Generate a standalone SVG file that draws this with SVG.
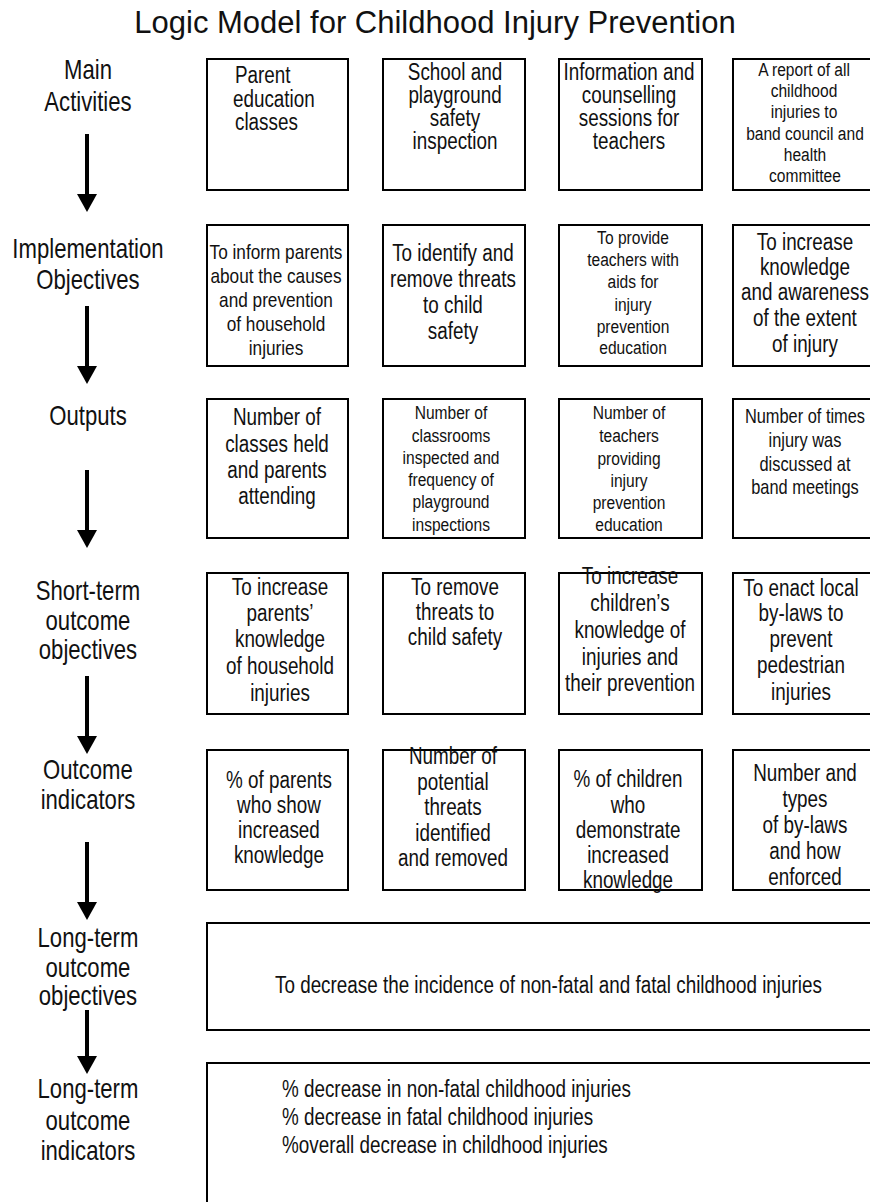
<svg xmlns="http://www.w3.org/2000/svg" width="870" height="1202" viewBox="0 0 870 1202">
<defs>
<style>
.box{fill:#fff;stroke:#000;stroke-width:2}
.t{font-family:"Liberation Sans",Arial,sans-serif;font-size:23px;text-anchor:middle;fill:#111}
.s19{font-size:19px}
.s20{font-size:20px}
.s21{font-size:21px}
.lbl{font-size:27px}
.st{text-anchor:start}
.title{font-family:"Liberation Sans",Arial,sans-serif;font-size:31px;text-anchor:middle;fill:#111}
.arr{stroke:#000;stroke-width:4;fill:none;marker-end:url(#ah)}
</style>
<marker id="ah" markerUnits="userSpaceOnUse" markerWidth="20" markerHeight="20" refX="0" refY="10" orient="auto" viewBox="0 0 20 20">
<path d="M0,0 L18,10 L0,20 Z" fill="#000"/>
</marker>
</defs>
<rect width="870" height="1202" fill="#fff"/>
<text class="title" x="435" y="33">Logic Model for Childhood Injury Prevention</text>

<g id="labels"><g transform="scale(0.82 1)">
<text class="t lbl" x="107.3" y="79">Main</text>
<text class="t lbl" x="107.3" y="111">Activities</text>
<text class="t lbl" x="107.3" y="258">Implementation</text>
<text class="t lbl" x="107.3" y="289">Objectives</text>
<text class="t lbl" x="107.3" y="425">Outputs</text>
<text class="t lbl" x="107.3" y="600">Short-term</text>
<text class="t lbl" x="107.3" y="630">outcome</text>
<text class="t lbl" x="107.3" y="659">objectives</text>
<text class="t lbl" x="107.3" y="779">Outcome</text>
<text class="t lbl" x="107.3" y="809">indicators</text>
<text class="t lbl" x="107.3" y="947">Long-term</text>
<text class="t lbl" x="107.3" y="977">outcome</text>
<text class="t lbl" x="107.3" y="1005">objectives</text>
<text class="t lbl" x="107.3" y="1098">Long-term</text>
<text class="t lbl" x="107.3" y="1130">outcome</text>
<text class="t lbl" x="107.3" y="1160">indicators</text>
</g></g>

<g id="connectors">
<line class="arr" x1="87" y1="134" x2="87" y2="194"/>
<line class="arr" x1="87" y1="306" x2="87" y2="366"/>
<line class="arr" x1="87" y1="470" x2="87" y2="530"/>
<line class="arr" x1="87" y1="676" x2="87" y2="736"/>
<line class="arr" x1="87" y1="842" x2="87" y2="902"/>
<line class="arr" x1="87" y1="1010" x2="87" y2="1056"/>
</g>

<g id="r1b1"><rect class="box" x="207" y="59" width="141" height="131"/><g transform="scale(0.82 1)">
<text class="t st" x="286.6" y="83">Parent</text><text class="t st" x="284.1" y="107">education</text><text class="t st" x="286.6" y="130">classes</text></g></g>
<g id="r1b2"><rect class="box" x="383" y="59" width="142" height="131"/><g transform="scale(0.82 1)">
<text class="t" x="554.9" y="80">School and</text><text class="t" x="554.9" y="103">playground</text><text class="t" x="554.9" y="126">safety</text><text class="t" x="554.9" y="149">inspection</text></g></g>
<g id="r1b3"><rect class="box" x="559" y="59" width="143" height="131"/><g transform="scale(0.82 1)">
<text class="t" x="767.1" y="80">Information and</text><text class="t" x="767.1" y="103">counselling</text><text class="t" x="767.1" y="126">sessions for</text><text class="t" x="767.1" y="149">teachers</text></g></g>
<g id="r1b4"><rect class="box" x="733" y="59" width="142" height="131"/><g transform="scale(0.82 1)">
<text class="t s19" x="980.5" y="76">A report of all</text><text class="t s19" x="980.5" y="97">childhood</text><text class="t s19" x="980.5" y="118">injuries to</text><text class="t s19" x="981.7" y="140">band council and</text><text class="t s19" x="981.7" y="161">health</text><text class="t s19" x="981.7" y="182">committee</text></g></g>

<g id="r2b1"><rect class="box" x="207" y="225" width="141" height="141"/><g transform="scale(0.82 1)">
<text class="t s21" x="336.6" y="259">To inform parents</text><text class="t s21" x="336.6" y="283">about the causes</text><text class="t s21" x="336.6" y="307">and prevention</text><text class="t s21" x="336.6" y="331">of household</text><text class="t s21" x="336.6" y="355">injuries</text></g></g>
<g id="r2b2"><rect class="box" x="383" y="225" width="142" height="141"/><g transform="scale(0.82 1)">
<text class="t" x="552.4" y="261">To identify and</text><text class="t" x="552.4" y="287">remove threats</text><text class="t" x="552.4" y="313">to child</text><text class="t" x="552.4" y="339">safety</text></g></g>
<g id="r2b3"><rect class="box" x="559" y="225" width="143" height="141"/><g transform="scale(0.82 1)">
<text class="t s19" x="772" y="244">To provide</text><text class="t s19" x="772" y="266">teachers with</text><text class="t s19" x="772" y="288">aids for</text><text class="t s19" x="772" y="311">injury</text><text class="t s19" x="772" y="333">prevention</text><text class="t s19" x="772" y="354">education</text></g></g>
<g id="r2b4"><rect class="box" x="733" y="225" width="142" height="141"/><g transform="scale(0.82 1)">
<text class="t" x="981.7" y="250">To increase</text><text class="t" x="981.7" y="275">knowledge</text><text class="t" x="981.7" y="300">and awareness</text><text class="t" x="981.7" y="326">of the extent</text><text class="t" x="981.7" y="352">of injury</text></g></g>

<g id="r3b1"><rect class="box" x="207" y="399" width="141" height="139"/><g transform="scale(0.82 1)">
<text class="t" x="337.8" y="425">Number of</text><text class="t" x="337.8" y="452">classes held</text><text class="t" x="337.8" y="478">and parents</text><text class="t" x="337.8" y="504">attending</text></g></g>
<g id="r3b2"><rect class="box" x="383" y="399" width="142" height="139"/><g transform="scale(0.82 1)">
<text class="t s19" x="550" y="419">Number of</text><text class="t s19" x="550" y="442">classrooms</text><text class="t s19" x="550" y="464">inspected and</text><text class="t s19" x="550" y="486">frequency of</text><text class="t s19" x="550" y="508">playground</text><text class="t s19" x="550" y="531">inspections</text></g></g>
<g id="r3b3"><rect class="box" x="559" y="399" width="143" height="139"/><g transform="scale(0.82 1)">
<text class="t s19" x="767.1" y="419">Number of</text><text class="t s19" x="767.1" y="442">teachers</text><text class="t s19" x="767.1" y="465">providing</text><text class="t s19" x="767.1" y="487">injury</text><text class="t s19" x="767.1" y="509">prevention</text><text class="t s19" x="767.1" y="531">education</text></g></g>
<g id="r3b4"><rect class="box" x="733" y="399" width="142" height="139"/><g transform="scale(0.82 1)">
<text class="t s20" x="981.7" y="423">Number of times</text><text class="t s20" x="981.7" y="447">injury was</text><text class="t s20" x="981.7" y="471">discussed at</text><text class="t s20" x="981.7" y="494">band meetings</text></g></g>

<g id="r4b1"><rect class="box" x="207" y="573" width="141" height="141"/><g transform="scale(0.82 1)">
<text class="t" x="341.5" y="595">To increase</text><text class="t" x="341.5" y="621">parents’</text><text class="t" x="341.5" y="647">knowledge</text><text class="t" x="341.5" y="674">of household</text><text class="t" x="341.5" y="701">injuries</text></g></g>
<g id="r4b2"><rect class="box" x="383" y="573" width="142" height="141"/><g transform="scale(0.82 1)">
<text class="t" x="554.9" y="595">To remove</text><text class="t" x="554.9" y="620">threats to</text><text class="t" x="554.9" y="645">child safety</text></g></g>
<g id="r4b3"><rect class="box" x="559" y="573" width="143" height="141"/><g transform="scale(0.82 1)">
<text class="t" x="768.3" y="584">To increase</text><text class="t" x="768.3" y="611">children’s</text><text class="t" x="768.3" y="638">knowledge of</text><text class="t" x="768.3" y="665">injuries and</text><text class="t" x="768.3" y="691">their prevention</text></g></g>
<g id="r4b4"><rect class="box" x="733" y="573" width="142" height="141"/><g transform="scale(0.82 1)">
<text class="t" x="976.8" y="596">To enact local</text><text class="t" x="976.8" y="621">by-laws to</text><text class="t" x="976.8" y="647">prevent</text><text class="t" x="976.8" y="673">pedestrian</text><text class="t" x="976.8" y="700">injuries</text></g></g>

<g id="r5b1"><rect class="box" x="207" y="750" width="141" height="140"/><g transform="scale(0.82 1)">
<text class="t" x="340.2" y="788">% of parents</text><text class="t" x="340.2" y="813">who show</text><text class="t" x="340.2" y="838">increased</text><text class="t" x="340.2" y="863">knowledge</text></g></g>
<g id="r5b2"><rect class="box" x="383" y="750" width="142" height="140"/><g transform="scale(0.82 1)">
<text class="t" x="552.4" y="764">Number of</text><text class="t" x="552.4" y="790">potential</text><text class="t" x="552.4" y="815">threats</text><text class="t" x="552.4" y="841">identified</text><text class="t" x="552.4" y="866">and removed</text></g></g>
<g id="r5b3"><rect class="box" x="559" y="750" width="143" height="140"/><g transform="scale(0.82 1)">
<text class="t" x="765.9" y="787">% of children</text><text class="t" x="765.9" y="813">who</text><text class="t" x="765.9" y="838">demonstrate</text><text class="t" x="765.9" y="863">increased</text><text class="t" x="765.9" y="888">knowledge</text></g></g>
<g id="r5b4"><rect class="box" x="733" y="750" width="142" height="140"/><g transform="scale(0.82 1)">
<text class="t" x="981.7" y="781">Number and</text><text class="t" x="981.7" y="807">types</text><text class="t" x="981.7" y="833">of by-laws</text><text class="t" x="981.7" y="859">and how</text><text class="t" x="981.7" y="885">enforced</text></g></g>

<g id="lt1"><rect class="box" x="207" y="923" width="668" height="107"/><g transform="scale(0.82 1)">
<text class="t st" x="335.4" y="993">To decrease the incidence of non-fatal and fatal childhood injuries</text></g></g>
<g id="lt2"><rect class="box" x="207" y="1063" width="668" height="150"/><g transform="scale(0.82 1)">
<text class="t st" x="343.9" y="1097">% decrease in non-fatal childhood injuries</text>
<text class="t st" x="343.9" y="1125">% decrease in fatal childhood injuries</text>
<text class="t st" x="343.9" y="1153">%overall decrease in childhood injuries</text></g></g>
</svg>
